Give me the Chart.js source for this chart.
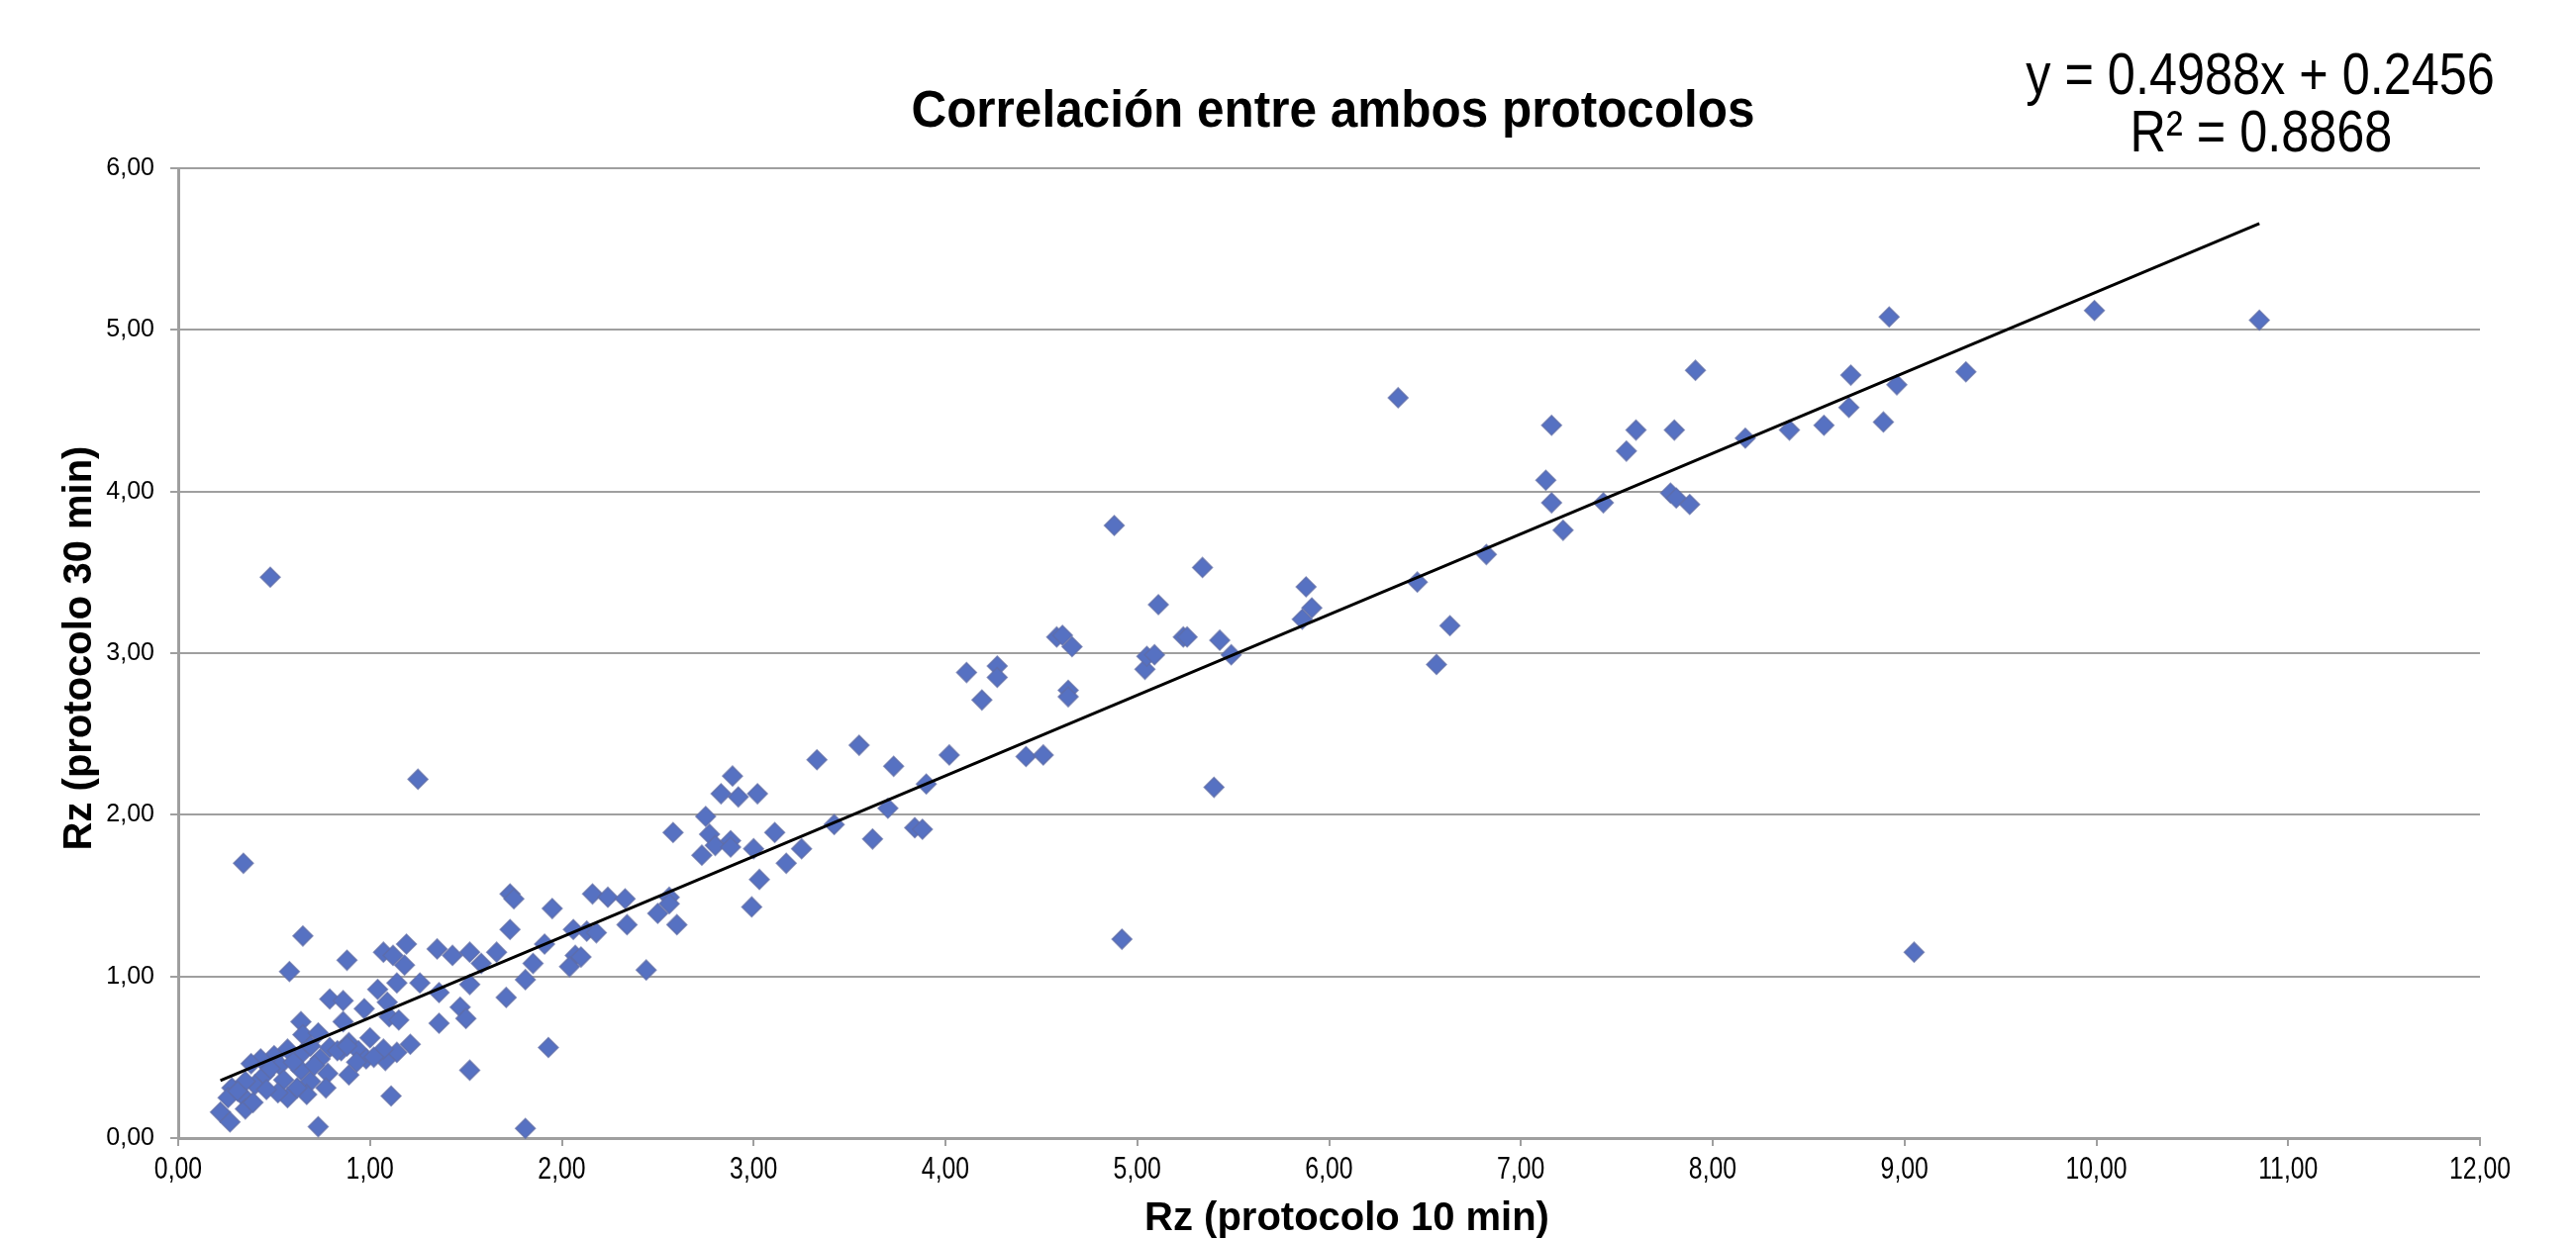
<!DOCTYPE html>
<html>
<head>
<meta charset="utf-8">
<title>Correlación entre ambos protocolos</title>
<script src="https://cdn.jsdelivr.net/npm/chart.js@4.4.1/dist/chart.umd.min.js"></script>
<style>
  html, body { margin: 0; padding: 0; background: #fff; }
  canvas { display: block; }
</style>
</head>
<body>
<canvas id="corrChart" width="2602" height="1252"></canvas>
<script>
// Rz with the 10 min protocol (x) and the 30 min protocol (y), same order in both lists
const rz10 = [
  0.65, 0.58, 0.88, 1.07, 1.12, 1.19, 1.18, 1.35, 1.43, 1.14,
  1.26, 1.36, 1.04, 1.09, 0.79, 0.86, 0.97, 0.86, 1.10, 1.15,
  1.36, 0.64, 0.65, 0.73, 0.89, 1.00, 0.94, 0.85, 1.21, 1.14,
  1.08, 0.98, 0.93, 0.74, 0.65, 0.57, 0.50, 0.43, 0.38, 0.53,
  0.64, 0.78, 0.89, 0.69, 0.77, 0.55, 0.57, 0.67, 0.52, 0.40,
  0.33, 0.28, 0.26, 0.35, 0.22, 0.27, 0.73, 1.11, 0.45, 0.48,
  0.69, 0.79, 1.07, 0.35, 0.39, 0.34, 0.48, 1.25, 0.83, 0.88,
  0.60, 0.46, 1.02, 0.62, 0.31, 0.71,
  1.52, 1.66, 1.58, 1.52, 1.73, 1.75, 1.95, 2.16, 2.24, 2.33,
  1.73, 1.91, 1.85, 1.81, 2.06, 2.13, 2.18, 2.07, 2.10, 2.04,
  2.34, 2.44, 1.71, 1.47, 1.50, 1.93, 1.52, 1.81, 2.50, 2.56,
  2.56, 2.60,
  2.58, 2.75, 2.77, 2.80, 2.88, 2.88, 2.73, 3.00, 3.11, 3.25,
  3.17, 3.03, 2.99, 2.89, 2.83, 2.92, 3.02, 3.33,
  3.42, 3.55, 3.62, 3.70, 3.73, 3.84, 3.88, 3.90, 4.02, 4.11,
  4.19, 4.27, 4.27, 4.42, 4.51, 4.58, 4.61, 4.66, 4.64, 4.64,
  4.88, 4.92, 5.04, 5.05, 5.09, 5.11, 5.24, 5.26, 5.34, 5.40,
  5.43, 5.49,
  5.86, 5.88, 5.91, 6.36, 6.46, 6.56, 6.63, 6.82,
  7.13, 7.16, 7.16, 7.22, 7.43, 7.55, 7.60, 7.78, 7.81, 7.80,
  7.88, 7.91, 8.17, 8.40, 8.58, 8.71, 8.72, 8.89, 8.92, 8.96,
  9.05, 9.32, 9.99, 10.85
];
const rz30 = [
  1.25, 1.03, 1.10, 1.15, 1.13, 1.20, 1.07, 1.17, 1.13, 0.96,
  0.96, 0.90, 0.92, 0.84, 0.86, 0.85, 0.80, 0.72, 0.75, 0.73,
  0.71, 0.72, 0.64, 0.65, 0.59, 0.62, 0.54, 0.54, 0.58, 0.53,
  0.48, 0.49, 0.47, 0.49, 0.53, 0.55, 0.51, 0.49, 0.46, 0.45,
  0.42, 0.40, 0.39, 0.35, 0.31, 0.36, 0.25, 0.27, 0.28, 0.33,
  0.27, 0.31, 0.25, 0.18, 0.16, 0.10, 0.07, 0.26, 0.39, 0.43,
  0.57, 0.56, 0.55, 0.35, 0.22, 1.70, 3.47, 2.22, 0.54, 0.57,
  0.47, 0.30, 0.50, 0.31, 0.29, 0.45,
  1.15, 1.15, 1.08, 0.95, 1.51, 1.48, 1.42, 1.51, 1.49, 1.48,
  1.29, 1.20, 1.08, 0.98, 1.29, 1.28, 1.27, 1.13, 1.12, 1.06,
  1.32, 1.04, 0.87, 0.81, 0.74, 0.56, 0.42, 0.06, 1.39, 1.49,
  1.45, 1.32,
  1.89, 1.99, 1.88, 1.81, 1.84, 1.80, 1.75, 1.79, 1.89, 1.79,
  1.70, 1.60, 1.43, 2.24, 2.13, 2.11, 2.13, 2.34,
  1.94, 2.43, 1.85, 2.04, 2.30, 1.92, 1.91, 2.19, 2.37, 2.88,
  2.71, 2.92, 2.85, 2.36, 2.37, 3.10, 3.11, 3.04, 2.77, 2.73,
  3.79, 1.23, 2.90, 2.98, 2.99, 3.30, 3.10, 3.10, 3.53, 2.17,
  3.08, 2.99,
  3.21, 3.41, 3.28, 4.58, 3.44, 2.93, 3.17, 3.61,
  4.07, 4.41, 3.93, 3.76, 3.93, 4.25, 4.38, 3.99, 3.96, 4.38,
  3.92, 4.75, 4.33, 4.38, 4.41, 4.52, 4.72, 4.43, 5.08, 4.66,
  1.15, 4.74, 5.12, 5.06
];

const xTickLabels = ['0,00', '1,00', '2,00', '3,00', '4,00', '5,00', '6,00',
  '7,00', '8,00', '9,00', '10,00', '11,00', '12,00'];
const yTickLabels = ['0,00', '1,00', '2,00', '3,00', '4,00', '5,00', '6,00'];

const chartTitle = 'Correlación entre ambos protocolos';
const xTitle = 'Rz (protocolo 10 min)';
const yTitle = 'Rz (protocolo 30 min)';

// linear trendline as printed by the spreadsheet
const trendSlope = 0.4988;
const trendIntercept = 0.2456;
const trendR2 = 0.8868;

const FONT = '"Liberation Sans", Arial, Helvetica, sans-serif';
const GRID = '#9f9f9f';

function tickValue(label) {
  return parseFloat(label.replace(',', '.'));
}

function drawText(ctx, text, x, y, font, opts) {
  opts = opts || {};
  ctx.save();
  ctx.font = font;
  ctx.textAlign = opts.align || 'center';
  ctx.textBaseline = opts.baseline || 'alphabetic';
  ctx.translate(x, y);
  if (opts.rotate) ctx.rotate(opts.rotate);
  ctx.scale(opts.squeeze || 1, 1);
  ctx.fillText(text, 0, 0);
  ctx.restore();
}

// titles, equation and tick labels (the source text is a bit narrower than Arial)
const chartText = {
  id: 'chartText',
  afterDraw(chart) {
    const ctx = chart.ctx;
    const area = chart.chartArea;
    const xs = chart.scales.x;
    const ys = chart.scales.y;
    ctx.fillStyle = '#000';

    yTickLabels.forEach(label => {
      drawText(ctx, label, area.left - 24, ys.getPixelForValue(tickValue(label)),
        '25px ' + FONT, { align: 'right', baseline: 'middle' });
    });
    xTickLabels.forEach(label => {
      drawText(ctx, label, xs.getPixelForValue(tickValue(label)), area.bottom + 41,
        '31px ' + FONT, { squeeze: 0.8 });
    });

    const midX = (area.left + area.right) / 2;
    drawText(ctx, chartTitle, midX + 4, 128, 'bold 51px ' + FONT, { squeeze: 0.97 });
    drawText(ctx, xTitle, midX + 18, area.bottom + 93, 'bold 40px ' + FONT);
    drawText(ctx, yTitle, 92, (area.top + area.bottom) / 2 - 5, 'bold 40px ' + FONT,
      { rotate: -Math.PI / 2 });

    const eq1 = 'y = ' + trendSlope.toFixed(4) + 'x + ' + trendIntercept.toFixed(4);
    const eq2 = 'R² = ' + trendR2.toFixed(4);
    drawText(ctx, eq1, 2283, 95, '60px ' + FONT, { squeeze: 0.84 });
    drawText(ctx, eq2, 2284, 153, '60px ' + FONT, { squeeze: 0.84 });
  }
};

const points = rz10.map((x, i) => ({ x: x, y: rz30[i] }));
const xMin = Math.min.apply(null, rz10);
const xMax = Math.max.apply(null, rz10);
const trendPoints = [xMin, xMax].map(x => ({ x: x, y: trendSlope * x + trendIntercept }));

const ctx = document.getElementById('corrChart').getContext('2d');
const corrChart = new Chart(ctx, {
  type: 'scatter',
  data: {
    datasets: [
      {
        label: 'Tendencia',
        data: trendPoints,
        showLine: true,
        borderColor: '#000',
        borderWidth: 3,
        pointRadius: 0,
        fill: false,
        order: 0
      },
      {
        label: 'Rz',
        data: points,
        pointStyle: 'rectRot',
        pointRadius: 10,
        backgroundColor: '#5671c2',
        borderColor: 'rgba(95, 108, 165, 0.7)',
        borderWidth: 1.5,
        clip: false,
        order: 1
      }
    ]
  },
  options: {
    responsive: false,
    animation: false,
    devicePixelRatio: 1,
    layout: { padding: { left: 172, right: 97, top: 170, bottom: 94 } },
    plugins: {
      legend: { display: false },
      tooltip: { enabled: false }
    },
    scales: {
      x: {
        type: 'linear',
        min: 0,
        max: 12,
        ticks: { display: false, stepSize: 1 },
        grid: { drawOnChartArea: false, color: GRID, lineWidth: 2, tickLength: 8 },
        border: { color: GRID, width: 3 }
      },
      y: {
        min: 0,
        max: 6,
        ticks: { display: false, stepSize: 1 },
        grid: { color: GRID, lineWidth: 2, tickLength: 8 },
        border: { color: GRID, width: 3 }
      }
    }
  },
  plugins: [chartText]
});
</script>
</body>
</html>
